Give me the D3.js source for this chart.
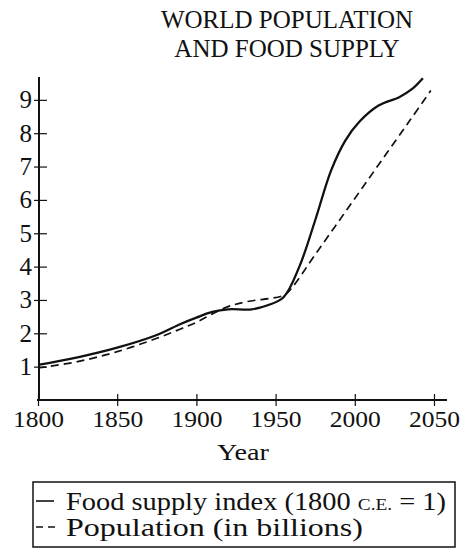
<!DOCTYPE html>
<html lang="en">
<head>
    <title>World Population and Food Supply</title>
    <script src="https://d3js.org/d3.v7.min.js"></script>
    <style>
        body { margin: 0; background: #fff; }
        text { font-family: "Liberation Serif", "Times New Roman", serif; fill: #111; }
    </style>
</head>
<body>
<svg id="chart"></svg>
<script>

    // values
    let years = [1800, 1850, 1900, 1950, 2000, 2050];
    let yTicks = [1, 2, 3, 4, 5, 6, 7, 8, 9];

    let foodYears = [1800, 1825, 1850, 1875, 1890, 1900, 1910, 1920, 1935, 1945, 1955, 1965, 1975, 1985, 1994, 2003, 2015, 2028, 2036, 2043];
    let foodIndex = [1.05, 1.28, 1.57, 1.95, 2.28, 2.47, 2.64, 2.72, 2.72, 2.84, 3.08, 4.0, 5.39, 6.88, 7.78, 8.35, 8.83, 9.08, 9.32, 9.65];

    let popYears = [1800, 1825, 1850, 1875, 1890, 1900, 1910, 1920, 1932, 1955, 1960, 1975, 1990, 2005, 2020, 2035, 2048];
    let popBillions = [0.96, 1.15, 1.45, 1.85, 2.13, 2.33, 2.58, 2.8, 2.95, 3.14, 3.35, 4.36, 5.37, 6.38, 7.39, 8.4, 9.28];

    let width = 466,
        height = 550;

    let svg = d3.select("#chart")
        .attr("width", width)
        .attr("height", height);

    let x = d3.scaleLinear().domain([1800, 2050]).range([38, 434]);
    let y = d3.scaleLinear().domain([0, 10]).range([400, 66.5]);

    // title
    let title = svg.append("text")
        .attr("text-anchor", "middle")
        .attr("font-size", 25);
    title.append("tspan").attr("x", 287).attr("y", 28).text("WORLD POPULATION");
    title.append("tspan").attr("x", 287).attr("y", 57).text("AND FOOD SUPPLY");

    // x axis
    let xAxis = svg.append("g")
        .attr("transform", "translate(0,400)")
        .call(d3.axisBottom(x).tickValues(years).tickFormat(d3.format("d")).tickSize(6).tickPadding(0));
    xAxis.select(".domain").remove();
    xAxis.selectAll(".tick line").attr("y1", -6).attr("y2", 6).attr("stroke", "#111").attr("stroke-width", 1.2);
    xAxis.selectAll(".tick text")
        .attr("font-size", 24)
        .attr("dy", null)
        .attr("y", 27)
        .attr("textLength", 51)
        .attr("lengthAdjust", "spacingAndGlyphs")
        .attr("fill", "#111");
    xAxis.append("line")
        .attr("x1", 37).attr("x2", 447)
        .attr("stroke", "#111").attr("stroke-width", 2);

    // y axis
    let yAxis = svg.append("g")
        .attr("transform", "translate(39,0)")
        .call(d3.axisLeft(y).tickValues(yTicks).tickSize(6).tickPadding(0));
    yAxis.select(".domain").remove();
    yAxis.selectAll(".tick line").attr("x1", -5).attr("x2", 8).attr("stroke", "#111").attr("stroke-width", 1.2);
    yAxis.selectAll(".tick text")
        .attr("font-size", 25)
        .attr("x", -7)
        .attr("dy", "0.32em")
        .attr("fill", "#111");
    yAxis.append("line")
        .attr("y1", 401).attr("y2", 77)
        .attr("stroke", "#111").attr("stroke-width", 2);

    svg.append("text")
        .attr("x", 243).attr("y", 460)
        .attr("text-anchor", "middle")
        .attr("font-size", 24)
        .attr("textLength", 52)
        .attr("lengthAdjust", "spacingAndGlyphs")
        .text("Year");

    // curves
    let line = d3.line()
        .x(d => x(d[0]))
        .y(d => y(d[1]))
        .curve(d3.curveCatmullRom.alpha(0.5));

    svg.append("path")
        .datum(popYears.map((yr, i) => [yr, popBillions[i]]))
        .attr("fill", "none")
        .attr("stroke", "#111")
        .attr("stroke-width", 1.7)
        .attr("stroke-dasharray", "8,5")
        .attr("d", line);

    svg.append("path")
        .datum(foodYears.map((yr, i) => [yr, foodIndex[i]]))
        .attr("fill", "none")
        .attr("stroke", "#111")
        .attr("stroke-width", 2.3)
        .attr("d", line);

    // legend
    let legend = svg.append("g").attr("id", "legend");
    legend.append("rect")
        .attr("x", 33).attr("y", 482)
        .attr("width", 422).attr("height", 65)
        .attr("fill", "none")
        .attr("stroke", "#111")
        .attr("stroke-width", 1.5);

    legend.append("line")
        .attr("x1", 36).attr("x2", 54)
        .attr("y1", 501).attr("y2", 501)
        .attr("stroke", "#111").attr("stroke-width", 1.6);
    legend.append("line")
        .attr("x1", 36).attr("x2", 55)
        .attr("y1", 527).attr("y2", 527)
        .attr("stroke", "#111").attr("stroke-width", 1.6)
        .attr("stroke-dasharray", "7,5");

    let t1 = legend.append("text")
        .attr("x", 66).attr("y", 510)
        .attr("font-size", 25)
        .attr("textLength", 380)
        .attr("lengthAdjust", "spacingAndGlyphs");
    t1.append("tspan").text("Food supply index (1800 ");
    t1.append("tspan").attr("font-size", 17).text("C.E.");
    t1.append("tspan").text(" = 1)");

    legend.append("text")
        .attr("x", 66).attr("y", 536)
        .attr("font-size", 25)
        .attr("textLength", 297)
        .attr("lengthAdjust", "spacingAndGlyphs")
        .text("Population (in billions)");

</script>
</body>
</html>
